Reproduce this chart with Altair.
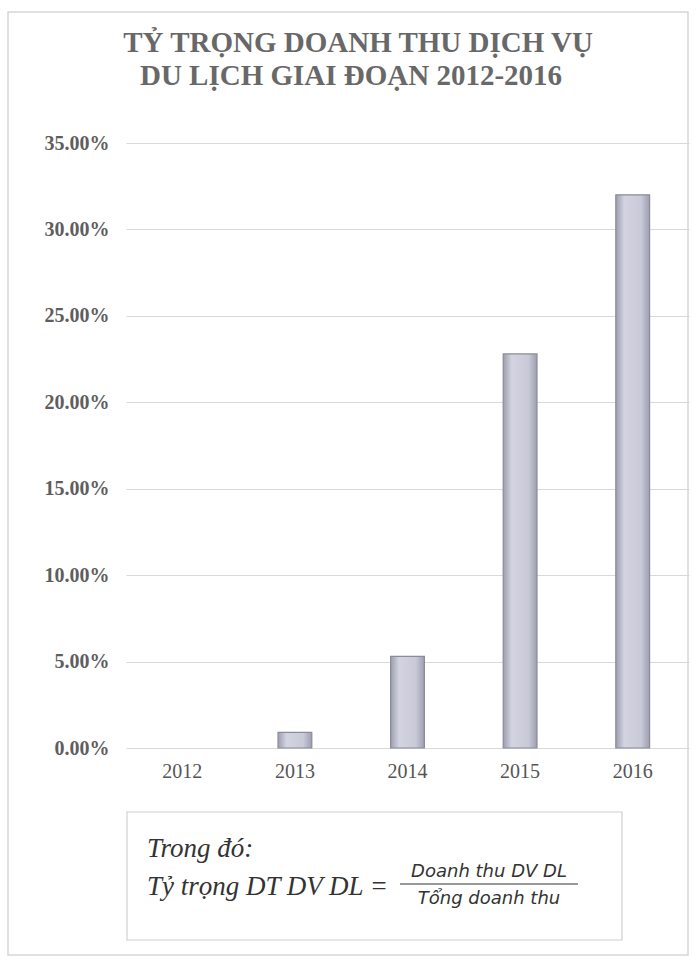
import altair as alt
import pandas as pd

years = ["2012", "2013", "2014", "2015", "2016"]
shares = [0.0, 0.009, 0.053, 0.228, 0.320]
y_ticks = [0.0, 0.05, 0.10, 0.15, 0.20, 0.25, 0.30, 0.35]

title_lines = ["TỶ TRỌNG DOANH THU DỊCH VỤ", "DU LỊCH GIAI ĐOẠN 2012-2016"]
note_line1 = "Trong đó:"
note_line2 = "Tỷ trọng DT DV DL ="
numerator = "Doanh thu DV DL"
denominator = "Tổng doanh thu"

df = pd.DataFrame({"year": years, "share": shares})
one = pd.DataFrame({"k": [0]})

SERIF = "Liberation Serif"
W, H = 563, 605
LEFT, TOP = 126, 143

def px(x):
    return alt.value(x - LEFT)

def py(y):
    return alt.value(y - TOP)

bars = alt.Chart(df).mark_bar(
    color=alt.Gradient(
        gradient="linear", x1=0, x2=1, y1=0, y2=0,
        stops=[alt.GradientStop(color="#9c9dae", offset=0),
               alt.GradientStop(color="#d3d4e0", offset=0.25),
               alt.GradientStop(color="#c9cad8", offset=0.75),
               alt.GradientStop(color="#9c9dae", offset=1)]),
    stroke="#8a8b9c", strokeWidth=1.2
).encode(
    x=alt.X("year:N", sort=years, title=None,
            scale=alt.Scale(paddingInner=0.7, paddingOuter=0.35),
            axis=alt.Axis(labelAngle=0, labelFont=SERIF, labelFontSize=20,
                          labelColor="#555", labelPadding=13, ticks=False,
                          domain=False, grid=False)),
    y=alt.Y("share:Q", title=None,
            scale=alt.Scale(domain=[0, 0.35], nice=False),
            axis=alt.Axis(values=y_ticks, format=".2%", labelFont=SERIF,
                          labelFontSize=20, labelFontWeight="bold",
                          labelColor="#5e5e5e", labelPadding=17,
                          ticks=False, domain=False, grid=True,
                          gridColor="#d9d9d9", gridWidth=1)),
    strokeOpacity=alt.condition("datum.share > 0", alt.value(1), alt.value(0)),
)

frame = alt.Chart(one).mark_rect(fill=None, stroke="#d6d6d6", strokeWidth=1.5).encode(
    x=px(8), x2=px(688), y=py(12), y2=py(955))

box = alt.Chart(one).mark_rect(fill="white", stroke="#cfcfcf", strokeWidth=1.2).encode(
    x=px(127), x2=px(622), y=py(812), y2=py(940))

def txt(s, x, y, **kw):
    return alt.Chart(one).mark_text(**kw).encode(x=px(x), y=py(y), text=alt.value(s))

title1 = txt(title_lines[0], 358, 43, font=SERIF, fontWeight="bold", fontSize=29,
             color="#686868", align="center", baseline="middle")
title2 = txt(title_lines[1], 351, 76, font=SERIF, fontWeight="bold", fontSize=29,
             color="#686868", align="center", baseline="middle")

t1 = txt(note_line1, 147, 849, font=SERIF, fontStyle="italic", fontSize=27,
         color="#333", align="left", baseline="middle")
t2 = txt(note_line2, 147, 887, font=SERIF, fontStyle="italic", fontSize=27,
         color="#333", align="left", baseline="middle")
num = txt(numerator, 489, 872, font="DejaVu Sans", fontStyle="italic", fontSize=18,
          color="#333", align="center", baseline="middle")
den = txt(denominator, 489, 899, font="DejaVu Sans", fontStyle="italic", fontSize=18,
          color="#333", align="center", baseline="middle")
fracline = alt.Chart(one).mark_rule(color="#333", strokeWidth=1).encode(
    x=px(400), x2=px(578), y=py(884))

chart = alt.layer(frame, bars, box, title1, title2, t1, t2, num, den, fracline).properties(
    width=W, height=H,
    padding={"left": LEFT, "top": TOP, "right": 700 - LEFT - W, "bottom": 960 - TOP - H},
    autosize=alt.AutoSizeParams(type="none"),
    background="white",
).configure_view(stroke=None)

chart.save("out.html", embed_options={"renderer": "svg", "actions": False})
